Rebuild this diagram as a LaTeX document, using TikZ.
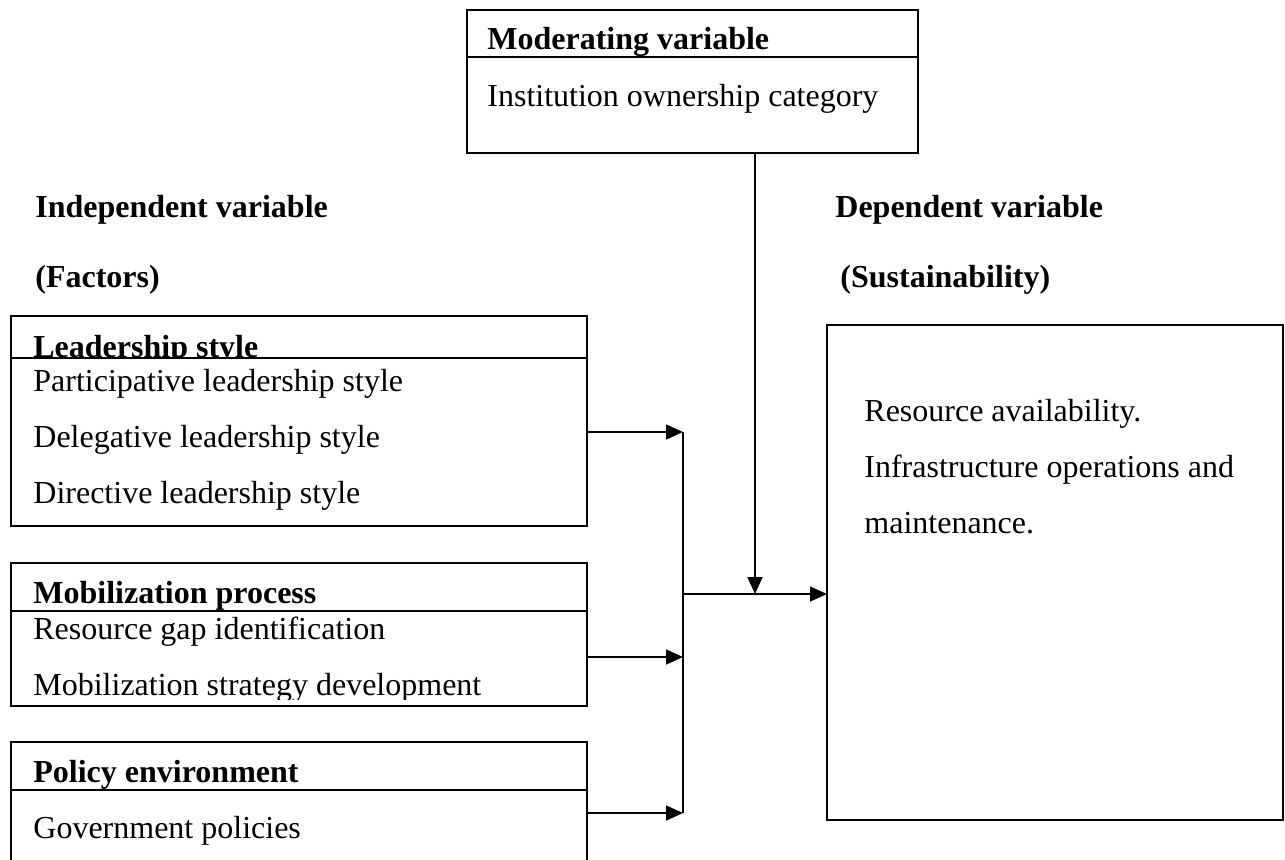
\documentclass[tikz,border=0pt]{standalone}
\usepackage{fontspec}
\setmainfont{Liberation Serif}
\usetikzlibrary{arrows.meta,fit}
\tikzset{
  frame/.style={draw=black, line width=1.1pt, inner sep=0pt, outer sep=0pt},
  divider/.style={draw=black, line width=0.8pt},
  txt/.style={anchor=base west, inner sep=0pt, font=\fontsize{16pt}{19pt}\selectfont},
  head/.style={txt, font=\fontsize{16pt}{19pt}\selectfont\bfseries},
  conn/.style={draw=black, line width=0.8pt},
  arr/.style={conn, -{Triangle[length=8.5pt,width=7.5pt]}}
}
\begin{document}
\begin{tikzpicture}[x=0.5pt,y=-0.5pt]
\clip (0,0) rectangle (1285,859);
\fill[white] (0,0) rectangle (1285,859);

% Moderating variable box
\node[frame, fit={(467,10)(918,153)}] (mod) {};
\draw[divider] (467,57) -- (918,57);
\node[head] (modh) at (487,49) {Moderating variable};
\node[txt] (modt) at (487,106) {Institution ownership category};

% column headings
\node[head] (indh) at (35,217) {Independent variable};
\node[head] (indf) at (35,287) {(Factors)};
\node[head] (deph) at (835,217) {Dependent variable};
\node[head] (depf) at (840,287) {(Sustainability)};

% Leadership style box
\node[frame, fit={(11,316)(587,526)}] (lead) {};
\draw[divider] (11,358) -- (587,358);
\begin{scope}
\clip (11,316) rectangle (587,357.5);
\node[head] (leadh) at (33,357) {Leadership style};
\end{scope}
\node[txt] (lead1) at (33,391) {Participative leadership style};
\node[txt] (lead2) at (33,447) {Delegative leadership style};
\node[txt] (lead3) at (33,503) {Directive leadership style};

% Mobilization process box
\node[frame, fit={(11,563)(587,706)}] (mob) {};
\draw[divider] (11,611) -- (587,611);
\node[head] (mobh) at (33,603) {Mobilization process};
\node[txt] (mob1) at (33,639) {Resource gap identification};
\begin{scope}
\clip (11,611) rectangle (587,699);
\node[txt] (mob2) at (33,695) {Mobilization strategy development};
\end{scope}

% Policy environment box
\node[frame, fit={(11,742)(587,900)}] (pol) {};
\draw[divider] (11,790) -- (587,790);
\node[head] (polh) at (33,782) {Policy environment};
\node[txt] (pol1) at (33,838) {Government policies};

% Dependent variable box
\node[frame, fit={(827,325)(1283,820)}] (dep) {};
\node[txt] (dep1) at (864,421) {Resource availability.};
\node[txt] (dep2) at (864,477) {Infrastructure operations and};
\node[txt] (dep3) at (864,533) {maintenance.};

% connectors
\coordinate (b1) at (683,432);
\coordinate (b2) at (683,657);
\coordinate (b3) at (683,813);
\coordinate (bm) at (683,594);
\coordinate (mj) at (755,594);

\draw[arr] (lead.east |- b1) -- (b1);
\draw[arr] (mob.east |- b2) -- (b2);
\draw[arr] (pol.east |- b3) -- (b3);
\draw[conn] (b1) -- (b3);
\draw[arr] (bm) -- (dep.west |- bm);
\draw[arr] (mod.south -| mj) -- (mj);
\end{tikzpicture}
\end{document}
